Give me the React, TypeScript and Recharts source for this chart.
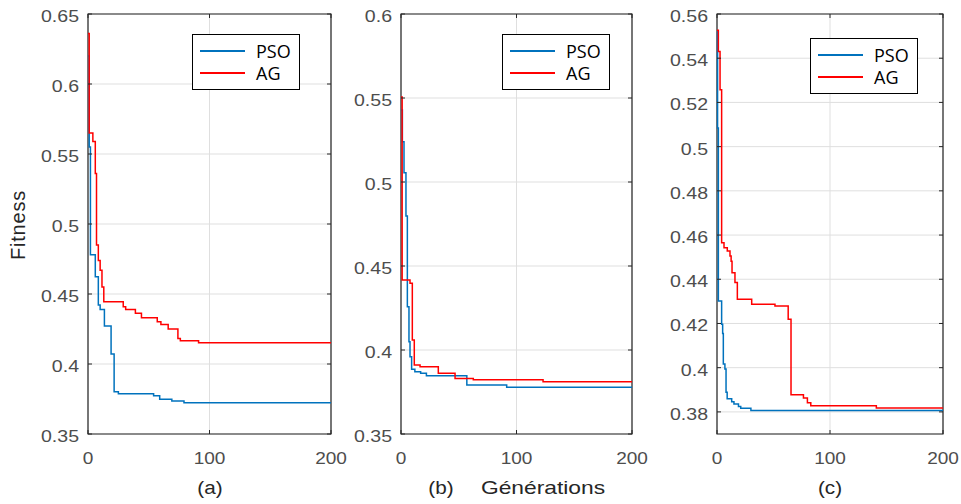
import React from "react";
import {
  LineChart,
  Line,
  XAxis,
  YAxis,
  CartesianGrid,
  ReferenceArea,
  Legend,
} from "recharts";

// generation / fitness pairs
const GEN_A_PSO = [0, 1, 2, 6, 8.5, 10, 13.5, 19, 21.5, 25, 54, 59, 69, 79, 200];
const FIT_A_PSO = [0.62, 0.555, 0.478, 0.4624, 0.4421, 0.439, 0.4271, 0.4071, 0.3802, 0.3788, 0.3774, 0.3748, 0.3736, 0.3724, 0.3724];
const GEN_A_AG = [0, 1, 4, 6, 7, 8.5, 10, 11.5, 13, 29, 31, 39, 44, 57, 60, 66, 74, 76, 91, 200];
const FIT_A_AG = [0.636, 0.565, 0.559, 0.536, 0.485, 0.474, 0.467, 0.455, 0.4445, 0.4409, 0.439, 0.4362, 0.433, 0.4302, 0.4283, 0.425, 0.4183, 0.4166, 0.4152, 0.4152];

const GEN_B_PSO = [0, 1.2, 2.6, 4.3, 5.5, 6.9, 7.8, 9.2, 12, 17, 22, 57, 91.5, 200];
const FIT_B_PSO = [0.5428, 0.524, 0.5055, 0.4797, 0.4257, 0.4049, 0.396, 0.3885, 0.3871, 0.3861, 0.3847, 0.3792, 0.3778, 0.3778];
const GEN_B_AG = [0, 1, 7.8, 9.8, 11.5, 16.5, 32.3, 46.8, 62.6, 123, 200];
const FIT_B_AG = [0.5506, 0.4416, 0.4398, 0.406, 0.391, 0.39, 0.3861, 0.3831, 0.3823, 0.3811, 0.3811];

const GEN_C_PSO = [0, 0.5, 1.2, 4.1, 5, 5.6, 7, 8, 9, 13, 15, 19, 21, 30, 200];
const FIT_C_PSO = [0.552, 0.5084, 0.4302, 0.4197, 0.4155, 0.4017, 0.3994, 0.3889, 0.3859, 0.3846, 0.3836, 0.3824, 0.3817, 0.3806, 0.3806];
const GEN_C_AG = [0, 1.2, 2.7, 4.1, 6.2, 9.1, 11.5, 12.5, 13.3, 15.9, 18, 30.7, 51.3, 63, 65.5, 76.5, 80, 83, 141, 200];
const FIT_C_AG = [0.5527, 0.543, 0.5257, 0.4565, 0.4543, 0.4528, 0.4505, 0.4482, 0.443, 0.4385, 0.431, 0.4287, 0.4279, 0.4219, 0.3878, 0.3863, 0.3841, 0.3828, 0.3818, 0.3818];

const SERIES_ORDER = ["PSO", "AG"];
const TICKS_X = [0, 100, 200];
const TICKS_Y_A = [0.35, 0.4, 0.45, 0.5, 0.55, 0.6, 0.65];
const TICKS_Y_B = [0.35, 0.4, 0.45, 0.5, 0.55, 0.6];
const TICKS_Y_C = [0.38, 0.4, 0.42, 0.44, 0.46, 0.48, 0.5, 0.52, 0.54, 0.56];
const DOMAIN_Y_A = [0.35, 0.65];
const DOMAIN_Y_B = [0.35, 0.6];
const DOMAIN_Y_C = [0.37, 0.56];

const BLUE = "#0072BD";
const RED = "#FF0000";
const PLOT_TOP = 14;
const PLOT_BOTTOM = 434;
const TICK_FONT = "'Liberation Sans', Arial, sans-serif";

const zip = (gens: number[], fits: number[]) =>
  gens.map((g, i) => ({ gen: g, fit: fits[i] }));

function YTick(props: any) {
  const { payload, left, right } = props;
  const y = payload.coordinate;
  return (
    <g>
      <line x1={left} x2={left + 4} y1={y} y2={y} stroke="#262626" />
      <line x1={right - 4} x2={right} y1={y} y2={y} stroke="#262626" />
      <g transform={`translate(${left - 9},${y + 2})`}>
        <text
          transform="scale(1.15,1)"
          textAnchor="end"
          dy="0.35em"
          fontSize={17}
          fontFamily={TICK_FONT}
          fill="#4d4d4d"
        >
          {String(payload.value)}
        </text>
      </g>
    </g>
  );
}

function XTick(props: any) {
  const { payload } = props;
  const x = payload.coordinate;
  return (
    <g>
      <line x1={x} x2={x} y1={PLOT_BOTTOM} y2={PLOT_BOTTOM - 4} stroke="#262626" />
      <line x1={x} x2={x} y1={PLOT_TOP} y2={PLOT_TOP + 4} stroke="#262626" />
      <g transform={`translate(${x},458)`}>
        <text
          transform="scale(1.12,1)"
          textAnchor="middle"
          dy="0.35em"
          fontSize={17}
          fontFamily={TICK_FONT}
          fill="#4d4d4d"
        >
          {String(payload.value)}
        </text>
      </g>
    </g>
  );
}

function LegendBox({ payload }: any) {
  if (!payload?.length) return null;
  const items = [...payload].sort(
    (a: any, b: any) => SERIES_ORDER.indexOf(a.value) - SERIES_ORDER.indexOf(b.value)
  );
  return (
    <div
      style={{
        width: 108,
        height: 56,
        border: "1.5px solid #000",
        background: "#fff",
        paddingTop: 5,
        boxSizing: "border-box",
      }}
    >
      {items.map((e: any) => (
        <div key={e.value} style={{ display: "flex", alignItems: "center", height: 22 }}>
          <span
            style={{
              display: "inline-block",
              width: 45,
              height: 2.5,
              marginLeft: 7,
              background: e.color,
            }}
          />
          <span
            style={{
              marginLeft: 11,
              fontFamily: "'Open Sans', sans-serif",
              fontSize: 18,
              lineHeight: "20px",
              color: "#000",
            }}
          >
            {e.value}
          </span>
        </div>
      ))}
    </div>
  );
}

interface PanelProps {
  left: number;
  width: number;
  yAxisW: number;
  rightM: number;
  pso: { gen: number; fit: number }[];
  ag: { gen: number; fit: number }[];
  yDomain: number[];
  yTicks: number[];
  legendLeft: number;
  legendTop: number;
}

function Panel({ left, width, yAxisW, rightM, pso, ag, yDomain, yTicks, legendLeft, legendTop }: PanelProps) {
  const plotL = yAxisW;
  const plotR = width - rightM;
  return (
    <div style={{ position: "absolute", left, top: 0 }}>
      <LineChart
        width={width}
        height={504}
        margin={{ top: PLOT_TOP, right: rightM, bottom: 40, left: 0 }}
      >
        <CartesianGrid stroke="#dfdfdf" />
        <XAxis
          dataKey="gen"
          type="number"
          domain={[0, 200]}
          ticks={TICKS_X}
          interval={0}
          height={30}
          axisLine={false}
          tickLine={false}
          tick={(p: any) => <XTick {...p} />}
        />
        <YAxis
          type="number"
          domain={yDomain}
          ticks={yTicks}
          interval={0}
          width={yAxisW}
          allowDataOverflow
          axisLine={false}
          tickLine={false}
          tick={(p: any) => <YTick {...p} left={plotL} right={plotR} />}
        />
        <Line
          data={pso}
          dataKey="fit"
          name="PSO"
          type="stepAfter"
          stroke={BLUE}
          strokeWidth={1.5}
          dot={false}
          isAnimationActive={false}
        />
        <Line
          data={ag}
          dataKey="fit"
          name="AG"
          type="stepAfter"
          stroke={RED}
          strokeWidth={1.5}
          dot={false}
          isAnimationActive={false}
        />
        <ReferenceArea
          x1={0}
          x2={200}
          y1={yDomain[0]}
          y2={yDomain[1]}
          fill="none"
          stroke="#262626"
          strokeWidth={1.2}
          ifOverflow="visible"
        />
        <Legend
          layout="horizontal"
          verticalAlign="middle"
          align="center"
          content={<LegendBox />}
          wrapperStyle={{ left: legendLeft, top: legendTop, width: "auto", height: "auto" }}
        />
      </LineChart>
    </div>
  );
}

const labelStyle: React.CSSProperties = {
  position: "absolute",
  fontFamily: TICK_FONT,
  fontSize: 18,
  color: "#262626",
  whiteSpace: "nowrap",
};

export default function App() {
  return (
    <div style={{ position: "absolute", left: 0, top: 0, width: 961, height: 504, background: "#fff" }}>
      <Panel
        left={0}
        width={355}
        yAxisW={88}
        rightM={24}
        pso={zip(GEN_A_PSO, FIT_A_PSO)}
        ag={zip(GEN_A_AG, FIT_A_AG)}
        yDomain={DOMAIN_Y_A}
        yTicks={TICKS_Y_A}
        legendLeft={192}
        legendTop={34}
      />
      <Panel
        left={340}
        width={312}
        yAxisW={61}
        rightM={20}
        pso={zip(GEN_B_PSO, FIT_B_PSO)}
        ag={zip(GEN_B_AG, FIT_B_AG)}
        yDomain={DOMAIN_Y_B}
        yTicks={TICKS_Y_B}
        legendLeft={162}
        legendTop={34}
      />
      <Panel
        left={655}
        width={306}
        yAxisW={62}
        rightM={18}
        pso={zip(GEN_C_PSO, FIT_C_PSO)}
        ag={zip(GEN_C_AG, FIT_C_AG)}
        yDomain={DOMAIN_Y_C}
        yTicks={TICKS_Y_C}
        legendLeft={155}
        legendTop={38}
      />
      <div
        style={{
          ...labelStyle,
          fontSize: 20,
          letterSpacing: 0.8,
          left: 18,
          top: 225,
          transform: "translate(-50%,-50%) rotate(-90deg)",
        }}
      >
        Fitness
      </div>
      <div style={{ ...labelStyle, left: 209.5, top: 488, transform: "translate(-50%,-50%) scaleX(1.15)" }}>(a)</div>
      <div style={{ ...labelStyle, left: 441, top: 488, transform: "translate(-50%,-50%) scaleX(1.15)" }}>(b)</div>
      <div style={{ ...labelStyle, fontSize: 19, left: 543, top: 488, transform: "translate(-50%,-50%) scaleX(1.2)" }}>
        Générations
      </div>
      <div style={{ ...labelStyle, left: 830, top: 488, transform: "translate(-50%,-50%) scaleX(1.15)" }}>(c)</div>
    </div>
  );
}
